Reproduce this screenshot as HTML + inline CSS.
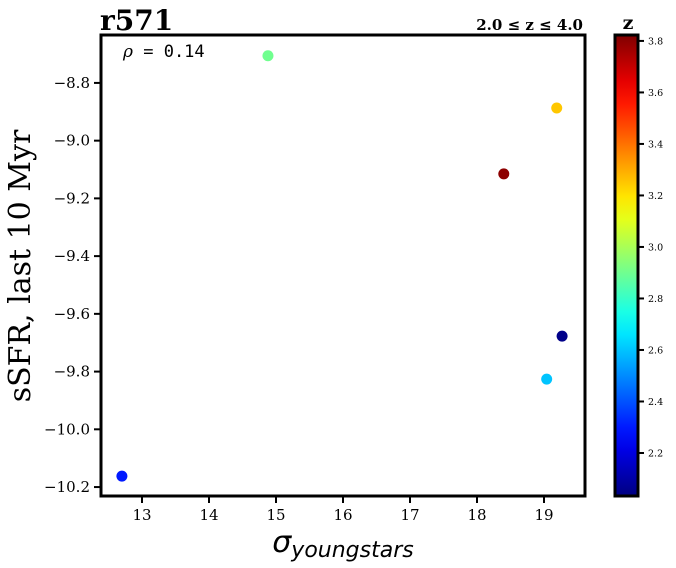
<!DOCTYPE html>
<html><head><meta charset="utf-8"><style>
html,body{margin:0;padding:0;background:#fff;width:676px;height:568px;overflow:hidden}
svg{display:block}
text{font-family:"DejaVu Serif","Liberation Serif",serif;fill:#000}
</style></head><body>
<svg id="chart" width="676" height="568">
<defs><linearGradient id="jet" x1="0" y1="1" x2="0" y2="0"></linearGradient></defs>
<g id="g"></g>
</svg>
<script>
const xVals=[12.70,14.88,19.19,18.40,19.27,19.04];
const yVals=[-10.162,-8.706,-8.887,-9.115,-9.677,-9.826];
const zVals=[2.30,2.90,3.25,3.80,2.05,2.60];
const xTicks=[13,14,15,16,17,18,19];
const yTicks=[-8.8,-9.0,-9.2,-9.4,-9.6,-9.8,-10.0,-10.2];
const cTicks=[2.2,2.4,2.6,2.8,3.0,3.2,3.4,3.6,3.8];
const L=101,R=585,T=35,B=496,X0=12.388,X1=19.612,Y0=-10.231,Y1=-8.634,Z0=2.033,Z1=3.823;
const CL=615,CR=638;
const sx=v=>L+(v-X0)/(X1-X0)*(R-L);
const sy=v=>B-(v-Y0)/(Y1-Y0)*(B-T);
const sz=v=>B-(v-Z0)/(Z1-Z0)*(B-T);
function jet(t){const c=x=>Math.round(255*Math.max(0,Math.min(1,x)));
return `rgb(${c(1.5-Math.abs(4*t-3))},${c(1.5-Math.abs(4*t-2))},${c(1.5-Math.abs(4*t-1))})`;}
const NS='http://www.w3.org/2000/svg',g=document.getElementById('g');
function mk(tag,at,txt){const e=document.createElementNS(NS,tag);for(const k in at)e.setAttribute(k,at[k]);if(txt!==undefined)e.textContent=txt;g.appendChild(e);return e;}
const grad=document.getElementById('jet');
for(let i=0;i<=20;i++){const s=document.createElementNS(NS,'stop');s.setAttribute('offset',i/20);s.setAttribute('stop-color',jet(i/20));grad.appendChild(s);}
xTicks.forEach(v=>{const x=sx(v);
const l=mk('line',{x1:x,x2:x,y1:B,y2:B+7,stroke:'#000','stroke-width':2});


const t=mk('text',{x:x,y:B+24,'text-anchor':'middle','font-size':15},String(v));

});
yTicks.forEach(v=>{const y=sy(v);
const l=mk('line',{x1:L-7,x2:L,y1:y,y2:y,stroke:'#000','stroke-width':2});


const t=mk('text',{x:L-11,y:y+5,'text-anchor':'end','font-size':15},'\u2212'+Math.abs(v).toFixed(1));

});
xVals.forEach((v,i)=>{const c=mk('circle',{cx:sx(v),cy:sy(yVals[i]),r:5.5,fill:jet((zVals[i]-Z0)/(Z1-Z0))});

});
const fr=mk('rect',{x:L,y:T,width:R-L,height:B-T,fill:'none',stroke:'#000','stroke-width':3});


const cb=mk('rect',{x:CL,y:T,width:CR-CL,height:B-T,fill:'url(#jet)',stroke:'#000','stroke-width':3});


cTicks.forEach(v=>{const y=sz(v);
const l=mk('line',{x1:CR,x2:CR+6,y1:y,y2:y,stroke:'#000','stroke-width':2});


const t=mk('text',{x:CR+10,y:y+3.5,'font-size':9.5},v.toFixed(1));

});
</script>
<svg width="676" height="568" style="position:absolute;left:0;top:0">
<text x="100" y="30" font-size="28" font-weight="bold">r571</text>
<text x="583" y="30" font-size="15" font-weight="bold" text-anchor="end">2.0 ≤ z ≤ 4.0</text>
<text x="123" y="57" font-size="17" style="font-family:'DejaVu Sans Mono',monospace"><tspan font-style="italic" style="font-family:'DejaVu Serif',serif">ρ</tspan> = 0.14</text>
<text x="628" y="29" font-size="19" font-weight="bold" text-anchor="middle">z</text>
<text transform="translate(30,266) rotate(-90)" font-size="30" text-anchor="middle">sSFR, last 10 Myr</text>
<text x="343" y="552" font-size="30" text-anchor="middle" font-style="italic" style="font-family:'DejaVu Sans',sans-serif">σ<tspan font-size="22" dy="5">youngstars</tspan></text>
</svg>
</body></html>
